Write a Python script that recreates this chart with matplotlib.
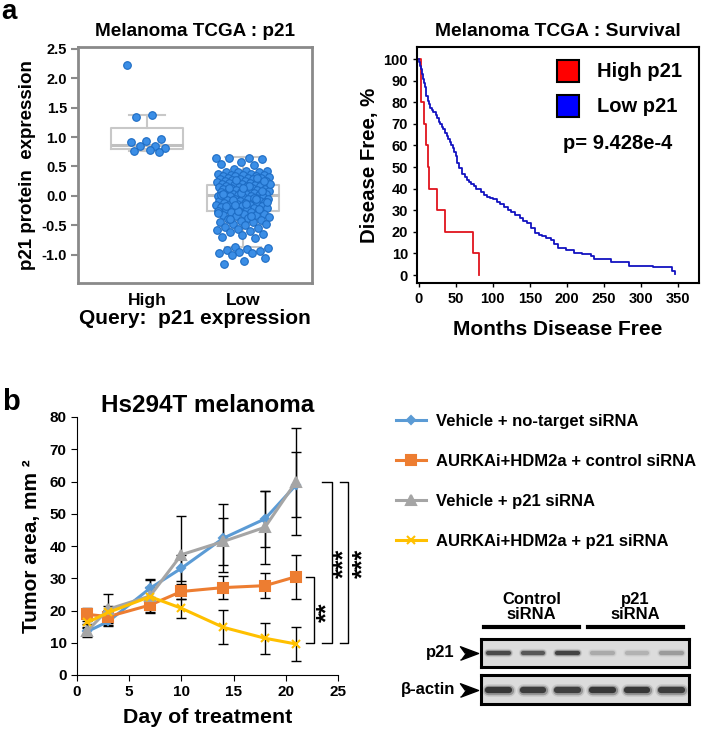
import numpy as np
import matplotlib
matplotlib.use("Agg")
import matplotlib.pyplot as plt
from matplotlib.lines import Line2D
from matplotlib.patches import Rectangle

plt.rcParams['font.family'] = ['Liberation Sans', 'DejaVu Sans']
plt.rcParams['font.weight'] = 'bold'
plt.rcParams['axes.labelweight'] = 'bold'
plt.rcParams['axes.titleweight'] = 'bold'

# ---- panel a, left: p21 protein expression (TCGA) ----
groups = ["High", "Low"]
high_vals = [2.22, 1.38, 1.34, 0.97, 0.94, 0.91, 0.84, 0.84, 0.81, 0.78, 0.76, 0.74]
low_vals = [
    0.65, 0.64, 0.64, 0.62, 0.58, 0.55, 0.53, 0.45, 0.43, 0.42, 0.41, 0.40, 0.40,
    0.38, 0.37, 0.36, 0.36, 0.35, 0.34, 0.33, 0.33, 0.32, 0.31, 0.30, 0.30, 0.29,
    0.28, 0.28, 0.27, 0.26, 0.26, 0.25, 0.24, 0.24, 0.23, 0.22, 0.22, 0.21, 0.20,
    0.20, 0.19, 0.18, 0.18, 0.17, 0.16, 0.16, 0.15, 0.15, 0.14, 0.13, 0.12, 0.12,
    0.11, 0.10, 0.10, 0.09, 0.08, 0.08, 0.07, 0.06, 0.06, 0.05, 0.04, 0.04, 0.03,
    0.02, 0.02, 0.01, 0.00, 0.00, -0.01, -0.02, -0.02, -0.03, -0.04, -0.05, -0.05,
    -0.06, -0.07, -0.08, -0.08, -0.09, -0.10, -0.10, -0.11, -0.12, -0.12, -0.13,
    -0.14, -0.15, -0.15, -0.16, -0.17, -0.18, -0.19, -0.20, -0.20, -0.21, -0.22,
    -0.23, -0.24, -0.25, -0.26, -0.27, -0.28, -0.30, -0.31, -0.32, -0.33, -0.35,
    -0.36, -0.38, -0.40, -0.41, -0.42, -0.44, -0.45, -0.47, -0.48, -0.50, -0.52,
    -0.55, -0.57, -0.58, -0.60, -0.62, -0.64, -0.66, -0.70, -0.72, -0.87, -0.88,
    -0.90, -0.92, -0.93, -0.95, -0.97, -0.97, -1.00, -1.05, -1.10, -1.15,
    0.31, 0.27, 0.21, 0.17, 0.13, 0.09, 0.05, 0.01, -0.03, -0.07, -0.11, -0.14,
    -0.18, -0.22, -0.26, -0.29, -0.34, -0.39, 0.25, 0.14, 0.03, -0.06, -0.16,
]
# box stats: whislo, q1, med, q3, whishi
high_box = [0.77, 0.80, 0.87, 1.15, 1.38]
low_box = [-0.86, -0.26, 0.02, 0.19, 0.66]

# ---- panel a, right: disease free survival ----
high_t = [0, 3.6, 6.8, 10.3, 12.1, 14.3, 24.7, 35.9, 73, 81.6]
high_s = [100, 80, 70, 60, 50, 40, 30, 20, 10, 0]
low_t = [0, 1, 2, 3, 4, 5, 6, 7, 8, 10, 12, 14, 16, 18, 20, 23, 25, 27, 29, 31,
         33, 35, 38, 40, 42, 44, 46, 48, 50, 52, 55, 58, 62, 65, 68, 71, 74, 78,
         84, 88, 92, 96, 100, 105, 110, 115, 120, 125, 130, 136, 141, 146, 152,
         157, 162, 167, 172, 178, 183, 188, 199, 209, 220, 232, 236, 259, 284,
         316, 338, 342, 345]
low_s = [100, 98.5, 97, 95.5, 94, 93, 91, 89, 87, 83, 80.5, 79, 77.5, 76.5, 75.5,
         74, 72.5, 71, 70, 68.5, 67.5, 66, 64.5, 63, 61.5, 60, 59, 57, 55, 52,
         49.5, 47, 45.5, 44, 43, 42, 41, 40, 38.5, 37, 36, 35.5, 35, 34, 33, 31.5,
         30, 29, 28, 26.5, 25, 24, 22, 19.5, 18.5, 18, 17, 16, 14.5, 12.5, 11.5,
         10, 9.5, 9, 7.5, 6, 4, 3.5, 3.5, 2, 0.5]
p_value = "9.428e-4"

# ---- panel b: tumor growth ----
days = [1, 3, 7, 10, 14, 18, 21]
series_names = ["Vehicle + no-target siRNA", "AURKAi+HDM2a + control siRNA",
                "Vehicle + p21 siRNA", "AURKAi+HDM2a + p21 siRNA"]
veh_nt = [13.5, 16.6, 26.9, 33.1, 42.4, 48.4, 59.0]
veh_nt_err = [1.5, 1.5, 3.0, 4.0, 10.6, 8.7, 10.0]
aurka_ctrl = [18.8, 18.1, 21.7, 25.9, 27.1, 27.7, 30.5]
aurka_ctrl_err = [2.0, 2.0, 2.6, 2.2, 3.6, 3.8, 6.8]
veh_p21 = [13.7, 20.4, 24.5, 37.3, 41.4, 45.8, 60.0]
veh_p21_err = [2.0, 4.8, 5.0, 12.0, 7.4, 11.3, 16.5]
aurka_p21 = [16.3, 19.4, 24.3, 20.7, 14.8, 11.4, 9.6]
aurka_p21_err = [1.8, 2.0, 3.0, 3.0, 5.3, 4.8, 5.2]
# significance brackets: (low, high, label, label centre)
brackets = [(10, 30.5, "**", 19.5), (10, 60, "***", 34.7), (10, 60, "***", 34.7)]

# ---- western blot ----
blot_rows = ["p21", "\u03b2-actin"]
p21_bands = [0.8, 0.7, 0.85, 0.22, 0.18, 0.3]
actin_bands = [0.95, 0.9, 0.88, 0.95, 0.95, 0.9]
blot_groups = ["Control\nsiRNA", "p21\nsiRNA"]

W, H = 706, 732
fig = plt.figure(figsize=(W / 100, H / 100), dpi=100)


def box(l, t, r, b):
    return [l / W, 1 - b / H, (r - l) / W, (b - t) / H]


def fx(x):
    return x / W


def fy(y):
    return 1 - y / H


fig.text(fx(1), fy(19), "a", fontsize=20, va="baseline", ha="left")
fig.text(fx(2), fy(410), "b", fontsize=21, va="baseline", ha="left")

# ===== a-left =====
ax1 = fig.add_axes(box(78, 47, 312, 283))
grey = "#8a8a8a"
stats = []
for name, b in zip(groups, [high_box, low_box]):
    stats.append(dict(label=name, whislo=b[0], q1=b[1], med=b[2], q3=b[3],
                      whishi=b[4], fliers=[]))
bp_style = dict(color="#c8c8c8", linewidth=1.5)
ax1.bxp(stats, positions=[1, 2], widths=0.76, showcaps=True,
        boxprops=bp_style, whiskerprops=bp_style, capprops=bp_style,
        medianprops=dict(color="#c0c0c0", linewidth=2.2))
for pos, vals, spread in [(1, high_vals, 0.42), (2, low_vals, 0.56)]:
    n = len(vals)
    offs = ((np.arange(n) * 0.61803398875) % 1 - 0.5) * spread
    ax1.scatter(pos + offs, vals, s=30, color="#3b8ee6", edgecolor="#1d6cc4",
                linewidth=0.8, zorder=3)
ax1.set_xlim(0.28, 2.72)
ax1.set_ylim(-1.48, 2.53)
ax1.set_yticks([-1.0, -0.5, 0.0, 0.5, 1.0, 1.5, 2.0, 2.5])
ax1.set_yticklabels(["%.1f" % v for v in [-1.0, -0.5, 0.0, 0.5, 1.0, 1.5, 2.0, 2.5]],
                    fontsize=10.5)
ax1.set_xticks([1, 2])
ax1.set_xticklabels(groups, fontsize=12.5)
ax1.tick_params(axis="x", length=0, pad=7)
ax1.tick_params(axis="y", length=5, width=1.5, color=grey, pad=3)
for s in ax1.spines.values():
    s.set_color(grey)
    s.set_linewidth(2)
ax1.set_title("Melanoma TCGA : p21", fontsize=13.6, pad=8)
ax1.set_ylabel("p21 protein  expression", fontsize=13.5, labelpad=4)
ax1.set_xlabel("Query:  p21 expression", fontsize=15, labelpad=1)

# ===== a-right =====
ax2 = fig.add_axes(box(417, 47, 699, 283))
ax2.plot(high_t, high_s, drawstyle="steps-post", color="#e0141e", lw=1.3)
ax2.plot(low_t, low_s, drawstyle="steps-post", color="#1212c0", lw=1.3)
ax2.set_xlim(-2.2, 378)
ax2.set_ylim(-3.7, 105.6)
ax2.set_xticks(range(0, 351, 50))
ax2.set_yticks(range(0, 101, 10))
ax2.tick_params(labelsize=10.5, length=3, width=1)
for s in ax2.spines.values():
    s.set_linewidth(1.5)
ax2.set_title("Melanoma TCGA : Survival", fontsize=13.9, pad=8)
ax2.set_ylabel("Disease Free, %", fontsize=14.7, labelpad=3)
ax2.set_xlabel("Months Disease Free", fontsize=15, labelpad=10)
for yb, col, lab in [(0.852, "#ff0000", "High p21"), (0.703, "#0000ff", "Low p21")]:
    ax2.add_patch(Rectangle((0.496, yb), 0.078, 0.093, transform=ax2.transAxes,
                            facecolor=col, edgecolor="black", lw=1.5))
    ax2.text(0.638, yb + 0.046, lab, transform=ax2.transAxes, fontsize=14.5,
             va="center", ha="left")
ax2.text(0.518, 0.593, "p= " + p_value, transform=ax2.transAxes, fontsize=14.5,
         va="center", ha="left")

# ===== b: growth curves =====
ax3 = fig.add_axes(box(77, 417, 338, 675))
styles = [("#5b9bd5", "D", 4, veh_nt, veh_nt_err),
          ("#ed7d31", "s", 7, aurka_ctrl, aurka_ctrl_err),
          ("#a5a5a5", "^", 7, veh_p21, veh_p21_err),
          ("#ffc000", "x", 6, aurka_p21, aurka_p21_err)]
handles = []
for (col, mk, ms, vals, err), name in zip(styles, series_names):
    ax3.errorbar(days, vals, yerr=err, fmt="none", ecolor="black",
                 elinewidth=1, capsize=3.5, capthick=1, zorder=2)
    h, = ax3.plot(days, vals, color=col, marker=mk, ms=ms, lw=2.2,
                  mec=col, mew=1.5, zorder=3, label=name)
    handles.append(h)
ax3.set_xlim(0, 25)
ax3.set_ylim(0, 80)
ax3.set_xticks(range(0, 26, 5))
ax3.set_yticks(range(0, 81, 10))
ax3.spines["top"].set_visible(False)
ax3.spines["right"].set_visible(False)
ax3.tick_params(labelsize=11, length=4, direction="out")
ax3.set_title("Hs294T melanoma", fontsize=17.5, pad=0)
ax3.set_ylabel("Tumor area, mm \u00b2", fontsize=15, labelpad=6)
ax3.set_xlabel("Day of treatment", fontsize=15.4, labelpad=6)

# brackets: left end, vertical line, star column (in day units)
br_x = [(21.9, 22.7, 24.0), (23.5, 24.4, 25.6), (25.2, 26.0, 27.4)]
for (lo, hi, lab, ys), (x0, x1, xs) in zip(brackets, br_x):
    ax3.plot([x0, x1, x1, x0], [hi, hi, lo, lo], color="black", lw=1,
             clip_on=False)
    ax3.text(xs, ys, lab, rotation=90, fontsize=18, ha="center", va="center",
             clip_on=False)

fig.legend(handles=handles, loc="upper left",
           bbox_to_anchor=(fx(388), fy(406)), frameon=False,
           handlelength=1.8, handletextpad=0.6, labelspacing=1.5, borderpad=0,
           prop=dict(weight="bold", size=12))

# ===== western blot =====
for row, bands, (t, b), thick in [(0, p21_bands, (639, 667), 3.0),
                                   (1, actin_bands, (675, 704), 4.5)]:
    axb = fig.add_axes(box(481, t, 689, b))
    axb.set_facecolor("#dcdcdc")
    for i, v in enumerate(bands):
        for lw, a in [(thick * 2.0, 0.12), (thick * 1.5, 0.3), (thick, 0.8)]:
            axb.plot([i - 0.3, i + 0.3], [0, 0], color="#1a1a1a", lw=lw,
                     alpha=a * v, solid_capstyle="round")
    axb.set_xlim(-0.5, 5.5)
    axb.set_ylim(-1, 1)
    axb.set_xticks([])
    axb.set_yticks([])
    for s in axb.spines.values():
        s.set_linewidth(2.2)
    yc = fy((t + b) / 2)
    fig.text(fx(455), yc, blot_rows[row], fontsize=12, ha="right", va="center")
    fig.add_artist(Line2D([fx(469)], [yc], marker=[(-1, -0.75), (1, 0), (-1, 0.75), (-0.45, 0)],
                          ms=13, color="black", lw=0))

for lab, (l, r) in zip(blot_groups, [(484, 579), (588, 683)]):
    fig.add_artist(Line2D([fx(l), fx(r)], [fy(627), fy(627)], color="black", lw=3))
    fig.text(fx((l + r) / 2), fy(607), lab, fontsize=12, ha="center",
             va="center", linespacing=1.05)

fig.savefig("out.png", dpi=100)
